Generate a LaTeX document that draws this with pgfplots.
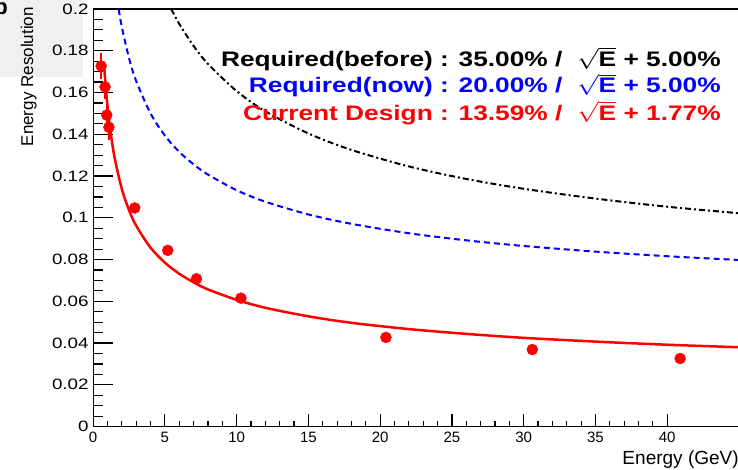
\documentclass[border=0pt]{standalone}
\usepackage{pgfplots}
\pgfplotsset{compat=1.18}
\usepackage{fontspec}
\setmainfont{Liberation Sans}
\usepackage{graphicx}
\begin{document}
\begin{tikzpicture}[x=1pt,y=1pt]
\fill[black!6] (-93,349) rectangle (-10,426);
\node[anchor=base east, font=\bfseries\fontsize{22}{24}\selectfont, inner sep=0pt] at (-85,412) {b};
% y axis ticks (longer, ROOT style)
\begin{axis}[
  scale only axis, width=645pt, height=417pt,
  xmin=0, xmax=45, ymin=0, ymax=0.2,
  axis x line=none, axis y line*=left,
  axis line style={line width=1.2pt, -},
  tick align=inside,
  every tick/.style={black, line width=1.2pt},
  major tick length=20pt, minor tick length=10pt,
  ytick={0,0.02,0.04,0.06,0.08,0.1,0.12,0.14,0.16,0.18,0.2}, minor y tick num=3,
  scaled y ticks=false,
  /pgf/number format/assume math mode=true,
  yticklabel style={font=\fontsize{15}{18}\selectfont, xshift=-1pt},
  yticklabel={\scalebox{1.25}[1]{\pgfmathprintnumber[fixed,precision=2]{\tick}}},
]
\end{axis}
\begin{axis}[
  scale only axis, width=645pt, height=417pt,
  xmin=0, xmax=45, ymin=0, ymax=0.2,
  clip=false,
  axis line style={line width=1.2pt},
  tick align=inside, tick pos=left,
  every tick/.style={black, line width=1.2pt},
  major tick length=13pt, minor tick length=6pt,
  xtick={0,5,10,15,20,25,30,35,40}, minor x tick num=4,
  ytick=\empty,
  /pgf/number format/assume math mode=true,
  xticklabel style={font=\fontsize{15}{18}\selectfont, yshift=-2pt},
  xticklabel={\pgfmathprintnumber{\tick}},
]
% Required(before): 35%/sqrt(E)+5%
\addplot[black, line width=2pt, dash pattern=on 6pt off 3pt on 2pt off 3pt, smooth] coordinates {
(5.44,0.2000) (6,0.1929) (7,0.1823) (8,0.1737) (10,0.1607) (12,0.1510) (15,0.1404)
(18,0.1325) (22,0.1246) (26,0.1186) (30,0.1139) (35,0.1092) (40,0.1053) (45,0.1022)};
% Required(now): 20%/sqrt(E)+5%
\addplot[blue, line width=2pt, dash pattern=on 6pt off 4pt, smooth] coordinates {
(1.78,0.1999) (2,0.1914) (2.5,0.1765) (3,0.1655) (4,0.1500) (5,0.1394) (6,0.1316)
(7,0.1256) (8,0.1207) (10,0.1132) (12,0.1077) (15,0.1016) (18,0.0971) (22,0.0926)
(26,0.0892) (30,0.0865) (35,0.0838) (40,0.0816) (45,0.0798)};
% Current design fit
\addplot[red, line width=2.5pt, smooth] coordinates {
(0.75,0.1746) (0.85,0.1651) (1,0.1536) (1.2,0.1418) (1.5,0.1287) (2,0.1138) (2.5,0.1037)
(3,0.0962) (4,0.0857) (5,0.0785) (6,0.0732) (7,0.0691) (8,0.0657) (10,0.0607)
(12,0.0569) (15,0.0528) (18,0.0497) (22,0.0467) (26,0.0444) (30,0.0425) (35,0.0407)
(40,0.0392) (45,0.0380)};
% Data points
\addplot[red, only marks, mark=*, mark size=5.5pt,
  error bars/.cd, x dir=both, x explicit, y dir=both, y explicit,
  error bar style={line width=1.5pt, red}, error mark=none]
  table[x=x, y=y, x error=ex, y error=ey] {
x y ex ey
0.56 0.1727 0.3 0.006
0.83 0.1627 0.3 0.006
0.95 0.1492 0.3 0.006
1.10 0.1434 0.3 0.006
2.9 0.1047 0 0
5.2 0.0844 0 0
7.2 0.0708 0 0
10.3 0.0615 0 0
20.4 0.0427 0 0
30.6 0.0369 0 0
40.9 0.0326 0 0
};
\node[anchor=base east, font=\bfseries\fontsize{21}{24}\selectfont, text=black, inner sep=0pt] at (axis description cs:0.972,0.8617) {\scalebox{1.25}[1]{Required(before) : 35.00\% /\ \ $\sqrt{\mbox{E}}$ + 5.00\%}};
\node[anchor=base east, font=\bfseries\fontsize{21}{24}\selectfont, text=blue, inner sep=0pt] at (axis description cs:0.972,0.7993) {\scalebox{1.25}[1]{Required(now) : 20.00\% /\ \ $\sqrt{\mbox{E}}$ + 5.00\%}};
\node[anchor=base east, font=\bfseries\fontsize{21}{24}\selectfont, text=red, inner sep=0pt] at (axis description cs:0.972,0.7338) {\scalebox{1.25}[1]{Current Design : 13.59\% /\ \ $\sqrt{\mbox{E}}$ + 1.77\%}};
\node[anchor=base east, font=\fontsize{19}{22}\selectfont, inner sep=0pt] at (axis description cs:1,-0.0911) {Energy (GeV)};
\node[anchor=base east, rotate=90, font=\fontsize{17}{20}\selectfont, inner sep=0pt] at (axis description cs:-0.093,1.0048) {Energy Resolution};
\end{axis}
\pgfresetboundingbox
\useasboundingbox (-93,-43) rectangle (644,426);
\end{tikzpicture}
\end{document}
